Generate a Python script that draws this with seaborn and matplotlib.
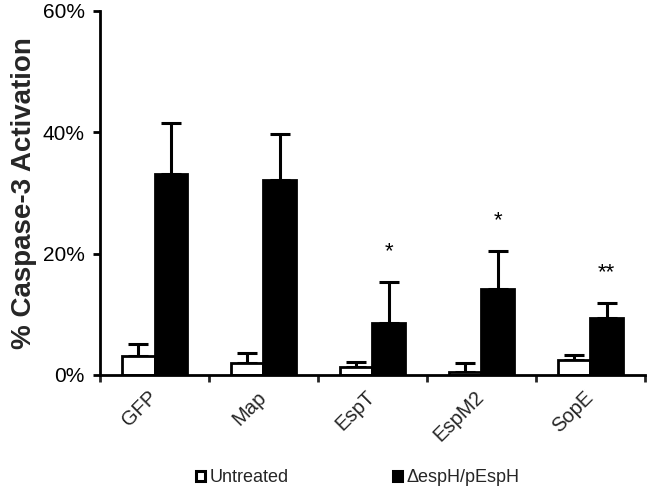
import numpy as np
import pandas as pd
import matplotlib
matplotlib.use("Agg")
import matplotlib.pyplot as plt
from matplotlib.patches import Patch
from matplotlib.ticker import PercentFormatter, FixedLocator
import seaborn as sns

# ---- data (percent) ----
categories = ["GFP", "Map", "EspT", "EspM2", "SopE"]
series_names = ["Untreated", "\u0394espH/pEspH"]
untreated = [3.1, 2.0, 1.3, 0.5, 2.5]
untreated_err = [2.0, 1.6, 0.9, 1.5, 0.8]
treated = [33.2, 32.2, 8.6, 14.2, 9.4]
treated_err = [8.4, 7.6, 6.8, 6.3, 2.5]
significance = ["", "", "*", "*", "**"]
y_ticks = [0, 20, 40, 60]

df = pd.DataFrame({
    "category": categories * 2,
    "group": [series_names[0]] * len(categories) + [series_names[1]] * len(categories),
    "value": untreated + treated,
})

sns.set_style("ticks")
plt.rcParams["font.family"] = ["Liberation Sans", "DejaVu Sans"]

fig = plt.figure(figsize=(6.54, 4.91), dpi=100)
ax = fig.add_axes([0.153, 0.2363, 0.833, 0.7413])

palette = {series_names[0]: "white", series_names[1]: "black"}
sns.barplot(data=df, x="category", y="value", hue="group", order=categories,
            hue_order=series_names, palette=palette, width=0.6, errorbar=None,
            edgecolor="black", linewidth=2, legend=False, ax=ax, zorder=2)

errs = [untreated_err, treated_err]
vals = [untreated, treated]
for cont, v, e in zip(ax.containers, vals, errs):
    xs = [b.get_x() + b.get_width() / 2 for b in cont]
    ax.errorbar(xs, v, yerr=[np.zeros(len(e)), e], fmt="none", ecolor="black",
                elinewidth=2.2, capsize=7, capthick=2.2, zorder=1)

# significance marks above treated bars
tcont = ax.containers[1]
for b, v, e, s in zip(tcont, treated, treated_err, significance):
    if s:
        ax.text(b.get_x() + b.get_width() / 2, v + e + 5, s, ha="center",
                va="center", fontsize=16, color="black")

ax.set_xlim(-0.5, len(categories) - 0.5)
ax.set_ylim(0, 60)
ax.set_yticks(y_ticks)
ax.yaxis.set_major_formatter(PercentFormatter(decimals=0))
ax.tick_params(axis="y", labelsize=15, length=5, width=2, direction="out",
               pad=6, colors="black")
ax.tick_params(axis="x", which="major", length=0, labelsize=14.5, pad=14)
ax.xaxis.set_minor_locator(FixedLocator(np.arange(-0.5, len(categories), 1.0)))
ax.tick_params(axis="x", which="minor", length=5, width=2, direction="out")
for lbl in ax.get_xticklabels():
    lbl.set_rotation(45)
    lbl.set_ha("right")
    lbl.set_va("center")
    lbl.set_rotation_mode("anchor")

ax.set_xlabel("")
ax.set_ylabel("% Caspase-3 Activation", fontsize=20, fontweight="bold", labelpad=4)
sns.despine(ax=ax)
for sp in ["left", "bottom"]:
    ax.spines[sp].set_linewidth(2)
    ax.spines[sp].set_color("black")

handles = [Patch(facecolor="white", edgecolor="black", linewidth=2.2),
           Patch(facecolor="black", edgecolor="black", linewidth=2.2)]
fig.legend(handles, series_names, loc="center", bbox_to_anchor=(0.547, 0.0265),
           ncol=2, frameon=False, fontsize=13, handlelength=0.5, handleheight=0.5,
           handletextpad=0.25, columnspacing=5.8)

fig.savefig("out.png", dpi=100)
